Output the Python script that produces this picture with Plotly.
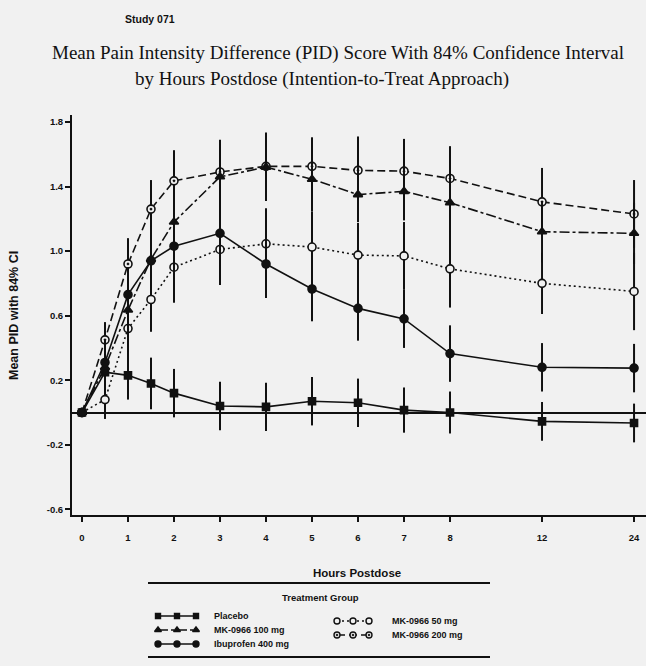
import plotly.graph_objects as go

# ---------------- data ----------------
hours = [0, 0.5, 1, 1.5, 2, 3, 4, 5, 6, 7, 8, 12, 24]
tick_hours = [0, 1, 2, 3, 4, 5, 6, 7, 8, 12, 24]
y_tick_values = [1.8, 1.4, 1.0, 0.6, 0.2, -0.2, -0.6]

placebo = [0, 0.25, 0.23, 0.18, 0.12, 0.04, 0.035, 0.07, 0.06, 0.015, 0.0, -0.055, -0.065]
placebo_ci = [0, 0.13, 0.15, 0.16, 0.15, 0.15, 0.15, 0.15, 0.15, 0.14, 0.13, 0.12, 0.12]

ibuprofen = [0, 0.31, 0.73, 0.94, 1.03, 1.11, 0.92, 0.765, 0.645, 0.58, 0.365, 0.28, 0.275]
ibuprofen_ci = [0, 0.14, 0.17, 0.19, 0.20, 0.20, 0.21, 0.20, 0.20, 0.18, 0.175, 0.15, 0.15]

mk50 = [0, 0.08, 0.52, 0.70, 0.90, 1.01, 1.045, 1.025, 0.975, 0.97, 0.89, 0.80, 0.75]
mk50_ci = [0, 0.12, 0.17, 0.20, 0.22, 0.22, 0.22, 0.22, 0.20, 0.21, 0.24, 0.19, 0.24]

mk100 = [0, 0.28, 0.635, 0.95, 1.18, 1.46, 1.52, 1.445, 1.35, 1.37, 1.30, 1.12, 1.11]
mk100_ci = [0, 0.15, 0.18, 0.20, 0.20, 0.20, 0.21, 0.20, 0.17, 0.18, 0.18, 0.19, 0.19]

mk200 = [0, 0.45, 0.92, 1.26, 1.435, 1.49, 1.525, 1.525, 1.50, 1.495, 1.45, 1.305, 1.23]
mk200_ci = [0, 0.11, 0.16, 0.18, 0.19, 0.20, 0.21, 0.18, 0.21, 0.20, 0.20, 0.21, 0.21]

names = ["Placebo", "MK-0966 100 mg", "Ibuprofen 400 mg", "MK-0966 50 mg", "MK-0966 200 mg"]

# ---------------- styling ----------------
BG = "#f1f1f1"
INK = "#111111"
W, H = 646, 666
ML, MT = 72, 115
PW, PH = W - ML, H - MT


def axis_pos(h):
    """Broken time axis: 1 unit/hour to 8 h, then compressed."""
    if h <= 8:
        return h
    if h <= 12:
        return 8 + (h - 8) / 2
    return 10 + (h - 12) / 6


def px(x):
    return (x - ML) / PW


def py(y):
    return (H - y) / PH


styles = {
    "Placebo": dict(dash="solid", symbol="square", fill=INK, size=7),
    "MK-0966 100 mg": dict(dash="10px,3px,3px,3px", symbol="triangle-up", fill=INK, size=8),
    "Ibuprofen 400 mg": dict(dash="solid", symbol="circle", fill=INK, size=8),
    "MK-0966 50 mg": dict(dash="2px,3px", symbol="circle", fill=BG, size=8),
    "MK-0966 200 mg": dict(dash="8px,4px", symbol="circle-dot", fill=BG, size=8),
}
series = {
    "Placebo": (placebo, placebo_ci),
    "MK-0966 100 mg": (mk100, mk100_ci),
    "Ibuprofen 400 mg": (ibuprofen, ibuprofen_ci),
    "MK-0966 50 mg": (mk50, mk50_ci),
    "MK-0966 200 mg": (mk200, mk200_ci),
}

fig = go.Figure()
xs = [axis_pos(h) for h in hours]
draw_order = ["MK-0966 50 mg", "MK-0966 200 mg", "MK-0966 100 mg", "Ibuprofen 400 mg", "Placebo"]
for nm in draw_order:
    vals, ci = series[nm]
    st = styles[nm]
    fig.add_trace(go.Scatter(
        x=xs, y=vals, mode="lines+markers", name=nm, showlegend=False,
        line=dict(color=INK, width=1.6, dash=st["dash"]),
        marker=dict(symbol=st["symbol"], size=st["size"], color=st["fill"],
                    line=dict(color=INK, width=1.6)),
        error_y=dict(type="data", array=ci, visible=True, width=0, thickness=2, color=INK),
        cliponaxis=False,
    ))

# ---------------- legend box (drawn on its own hidden axes, pixel units) ----------------
leg_x_range = [145, 493]
leg_y_range = [660, 580]
legend_slots = {
    "Placebo": ([158, 177, 196], 616, 212),
    "MK-0966 100 mg": ([158, 177, 196], 630, 212),
    "Ibuprofen 400 mg": ([158, 177, 196], 644, 212),
    "MK-0966 50 mg": ([337, 353, 369], 621, 390),
    "MK-0966 200 mg": ([337, 353, 369], 635, 390),
}
bold9 = dict(family="Liberation Sans", size=9, color=INK, weight="bold")
tickfont = dict(family="Liberation Sans", size=9.5, color=INK, weight="bold")
annotations = []
for nm in names:
    mx, row, tx = legend_slots[nm]
    st = styles[nm]
    fig.add_trace(go.Scatter(
        x=mx, y=[row] * len(mx), xaxis="x2", yaxis="y2", mode="lines+markers",
        showlegend=False, hoverinfo="skip",
        line=dict(color=INK, width=1.5, dash=st["dash"]),
        marker=dict(symbol=st["symbol"], size=st["size"] - 2, color=st["fill"],
                    line=dict(color=INK, width=1.4)),
    ))
    annotations.append(dict(x=tx, y=row, xref="x2", yref="y2", text=nm, showarrow=False,
                            xanchor="left", yanchor="middle", font=bold9))
annotations.append(dict(x=320, y=597, xref="x2", yref="y2", text="Treatment Group",
                        showarrow=False, xanchor="center", yanchor="middle",
                        font=dict(family="Liberation Sans", size=9.5, color=INK, weight="bold")))

shapes = [
    dict(type="line", xref="x2", yref="y2", x0=148, x1=490, y0=583, y1=583,
         line=dict(color=INK, width=2)),
    dict(type="line", xref="x2", yref="y2", x0=148, x1=490, y0=657, y1=657,
         line=dict(color=INK, width=2)),
]

# ---------------- titles ----------------
annotations += [
    dict(x=px(150), y=py(19), xref="paper", yref="paper", text="Study 071", showarrow=False,
         xanchor="center", yanchor="middle",
         font=dict(family="Liberation Sans", size=10.5, color=INK, weight="bold")),
    dict(x=px(338), y=py(53), xref="paper", yref="paper",
         text="Mean Pain Intensity Difference (PID) Score With 84% Confidence Interval",
         showarrow=False, xanchor="center", yanchor="middle",
         font=dict(family="Liberation Serif", size=19, color=INK)),
    dict(x=px(322), y=py(79), xref="paper", yref="paper",
         text="by Hours Postdose (Intention-to-Treat Approach)",
         showarrow=False, xanchor="center", yanchor="middle",
         font=dict(family="Liberation Serif", size=19, color=INK)),
    dict(x=px(14), y=py(316), xref="paper", yref="paper", text="Mean PID with 84% CI",
         showarrow=False, textangle=-90, xanchor="center", yanchor="middle",
         font=dict(family="Liberation Sans", size=12.5, color=INK, weight="bold")),
    dict(x=px(357), y=py(573), xref="paper", yref="paper", text="Hours Postdose",
         showarrow=False, xanchor="center", yanchor="middle",
         font=dict(family="Liberation Sans", size=11.5, color=INK, weight="bold")),
]

fig.update_layout(
    width=W, height=H,
    margin=dict(l=ML, r=0, t=MT, b=0),
    paper_bgcolor=BG, plot_bgcolor=BG,
    showlegend=False,
    annotations=annotations, shapes=shapes,
    xaxis=dict(
        domain=[0, 1], anchor="y",
        range=[-0.217, 12.26],
        tickvals=[axis_pos(h) for h in tick_hours],
        ticktext=[str(h) for h in tick_hours],
        ticks="outside", ticklen=5, tickwidth=1.5, tickcolor=INK,
        showline=True, linewidth=2, linecolor=INK,
        showgrid=False, zeroline=False,
        tickfont=tickfont, ticklabelstandoff=8,
    ),
    yaxis=dict(
        domain=[py(515), 1], anchor="x",
        range=[-0.635, 1.843],
        tickvals=y_tick_values,
        ticktext=["%.1f" % v for v in y_tick_values],
        ticks="outside", ticklen=5, tickwidth=1.5, tickcolor=INK,
        showline=True, linewidth=2, linecolor=INK,
        showgrid=False,
        zeroline=True, zerolinecolor=INK, zerolinewidth=1.5,
        tickfont=tickfont,
    ),
    xaxis2=dict(domain=[px(leg_x_range[0]), px(leg_x_range[1])], range=leg_x_range,
                anchor="y2", visible=False, fixedrange=True),
    yaxis2=dict(domain=[py(leg_y_range[0]), py(leg_y_range[1])], range=leg_y_range,
                anchor="x2", visible=False, fixedrange=True),
)

fig.write_html("out.html")
